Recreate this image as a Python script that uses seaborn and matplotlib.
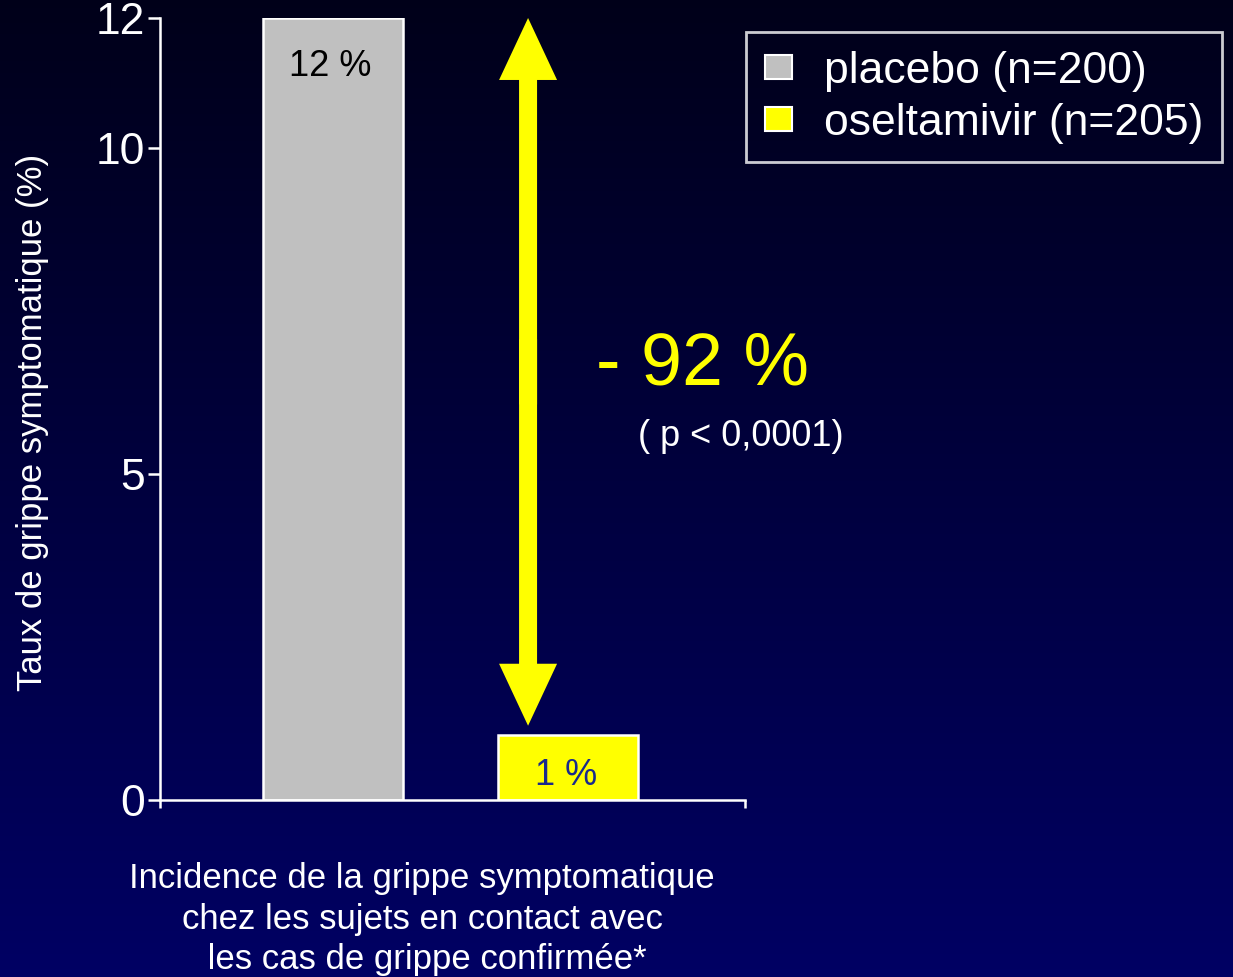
import numpy as np
import pandas as pd
import seaborn as sns
import matplotlib.pyplot as plt
from matplotlib.patches import Patch

# Data
groupes = ["placebo", "oseltamivir"]
taux = [12, 1]
etiquettes = ["12 %", "1 %"]
legende = ["placebo (n=200)", "oseltamivir (n=205)"]
couleurs = ["#C0C0C0", "#FFFF00"]
yticks = [0, 5, 10, 12]
xlabel_lines = ["Incidence de la grippe symptomatique",
                "chez les sujets en contact avec",
                " les cas de grippe confirmée*"]

sns.set_style("ticks")
plt.rcParams['font.family'] = ['Liberation Sans', 'DejaVu Sans']

fig = plt.figure(figsize=(12.33, 9.77), dpi=100)

# gradient background (dark at top, navy at bottom)
bg = fig.add_axes([0, 0, 1, 1], zorder=-10)
grad = np.linspace(0, 1, 256).reshape(-1, 1)
top = np.array([0, 0, 0.10])
bot = np.array([0, 0, 0.39])
img = top + (bot - top) * grad[:, :, None]
bg.imshow(img, aspect="auto", extent=[0, 1, 0, 1], origin="upper")
bg.axis("off")

ax = fig.add_axes([160 / 1233, 177 / 977, 585 / 1233, 782 / 977])
ax.patch.set_alpha(0)

df = pd.DataFrame({"groupe": groupes, "taux": taux})
sns.barplot(data=df, x="groupe", y="taux", hue="groupe", palette=couleurs,
            order=groupes, hue_order=groupes, width=0.596, dodge=False,
            saturation=1, edgecolor="white", linewidth=1.8, legend=False,
            ax=ax)

ax.set_xlim(-0.736, 1.753)
ax.set_ylim(0, 12)
ax.set_yticks(yticks)
ax.set_yticklabels([str(t) for t in yticks], fontsize=32, color="white")
ax.set_xticks([-0.736, 1.753])
ax.set_xticklabels(["", ""])
ax.tick_params(axis="y", length=9, width=1.8, color="white", pad=2)
ax.tick_params(axis="x", length=6, width=1.8, color="white")
for s in ["top", "right"]:
    ax.spines[s].set_visible(False)
for s in ["left", "bottom"]:
    ax.spines[s].set_color("white")
    ax.spines[s].set_linewidth(1.8)
ax.set_xlabel("")
ax.set_ylabel("Taux de grippe symptomatique (%)", fontsize=25,
              color="white")
ax.yaxis.set_label_coords(-0.19, 0.483)

# bar value labels
ax.text(0 - 0.013, taux[0] - 0.75, etiquettes[0], ha="center", va="center",
        fontsize=26, color="black")
ax.text(1 - 0.01, taux[1] * 0.38, etiquettes[1], ha="center", va="center",
        fontsize=26, color="#1a2a8c")

# double-headed yellow arrow
xa = 0.83
y_top, y_bot = 12.0, 1.14
mid = (y_top + y_bot) / 2
kw = dict(width=18 / 235, head_width=58 / 235, head_length=62 / 65.2,
          length_includes_head=True, color="#FFFF00", lw=0, zorder=5)
ax.arrow(xa, mid - 0.5, 0, y_top - mid + 0.5, **kw)
ax.arrow(xa, mid + 0.5, 0, y_bot - mid - 0.5, **kw)

fig.text(703 / 1233, 1 - 365 / 977, "- 92 %", ha="center", va="center",
         fontsize=53, color="#FFFF00")
fig.text(741 / 1233, 1 - 436 / 977, "( p < 0,0001)", ha="center",
         va="center", fontsize=26, color="white")

fig.text(422 / 1233, 1 - 919 / 977, "\n".join(xlabel_lines), ha="center",
         va="center", fontsize=25, color="white", linespacing=1.3)

handles = [Patch(facecolor=c, edgecolor="white", linewidth=1.5)
           for c in couleurs]
leg = fig.legend(handles, legende, loc="upper left",
                 bbox_to_anchor=(746 / 1233, 1 - 32 / 977), fontsize=32,
                 frameon=True, fancybox=False, handlelength=0.62,
                 handleheight=0.44, handletextpad=0.72, borderpad=0.42,
                 labelspacing=0.25, borderaxespad=0)
leg.get_frame().set_facecolor("none")
leg.get_frame().set_edgecolor("white")
leg.get_frame().set_linewidth(2)
for t in leg.get_texts():
    t.set_color("white")

fig.savefig("out.png", dpi=100)
